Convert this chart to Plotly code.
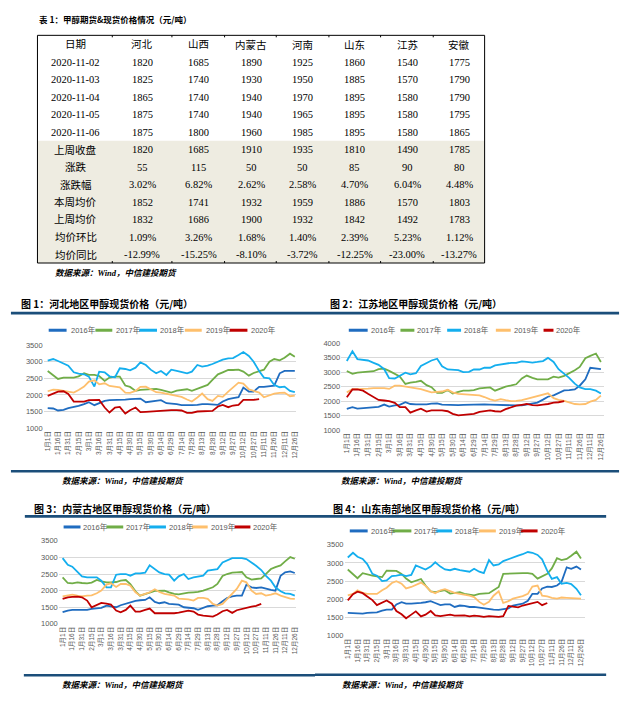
import plotly.graph_objects as go

W, H = 632, 702


def X(p):
    return p / W


def Y(p):
    return 1 - p / H


# ---------------- table data ----------------
table_title = "表 1：甲醇期货&现货价格情况（元/吨）"
regions = ["河北", "山西", "内蒙古", "河南", "山东", "江苏", "安徽"]
dates = ["2020-11-02", "2020-11-03", "2020-11-04", "2020-11-05", "2020-11-06"]
p_1102 = [1820, 1685, 1890, 1925, 1860, 1540, 1775]
p_1103 = [1825, 1740, 1930, 1950, 1885, 1570, 1790]
p_1104 = [1865, 1740, 1940, 1970, 1895, 1580, 1790]
p_1105 = [1875, 1740, 1940, 1965, 1895, 1580, 1795]
p_1106 = [1875, 1800, 1960, 1985, 1895, 1580, 1865]
stat_names = ["上周收盘", "涨跌", "涨跌幅", "本周均价", "上周均价", "均价环比", "均价同比"]
last_close = [1820, 1685, 1910, 1935, 1810, 1490, 1785]
change = [55, 115, 50, 50, 85, 90, 80]
change_pct = ["3.02%", "6.82%", "2.62%", "2.58%", "4.70%", "6.04%", "4.48%"]
week_avg = [1852, 1741, 1932, 1959, 1886, 1570, 1803]
last_week_avg = [1832, 1686, 1900, 1932, 1842, 1492, 1783]
avg_wow = ["1.09%", "3.26%", "1.68%", "1.40%", "2.39%", "5.23%", "1.12%"]
avg_yoy = ["-12.99%", "-15.25%", "-8.10%", "-3.72%", "-12.25%", "-23.00%", "-13.27%"]
source_text = "数据来源：Wind，中信建投期货"

# ---------------- chart data ----------------
DAYS = [0, 8, 15, 23, 30, 38, 45, 53, 60, 68, 75, 83, 90, 98, 105, 113, 120, 128, 135, 143,
        150, 158, 165, 173, 180, 188, 195, 203, 210, 218, 225, 233, 240, 248, 255, 263, 270,
        278, 285, 293, 300, 308, 315, 323, 330, 338, 345, 353, 360]
TICK_DAYS = [0, 15, 30, 45, 60, 75, 90, 105, 120, 135, 150, 165, 180, 195, 210, 225, 240,
             255, 270, 285, 300, 315, 330, 345, 360]
TICK_TEXT = ["1月1日", "1月16日", "1月31日", "2月15日", "3月1日", "3月16日", "3月31日",
             "4月15日", "4月30日", "5月15日", "5月30日", "6月14日", "6月29日", "7月14日",
             "7月29日", "8月13日", "8月28日", "9月12日", "9月27日", "10月12日", "10月27日",
             "11月11日", "11月26日", "12月11日", "12月26日"]
YEARS = ["2016年", "2017年", "2018年", "2019年", "2020年"]
COLORS = ["#1F6CC0", "#70AD47", "#14AEEE", "#FEBF6C", "#C00000"]
chart_titles = ["图 1：河北地区甲醇现货价格（元/吨）", "图 2：江苏地区甲醇现货价格（元/吨）",
                "图 3：内蒙古地区甲醇现货价格（元/吨）", "图 4：山东南部地区甲醇现货价格（元/吨）"]

hb_2016 = [1600, 1590, 1530, 1550, 1600, 1630, 1670, 1720, 1780, 1690,
           1760, 1820, 1840, 1840, 1840, 1860, 1870, 1890, 1890, 1780,
           1800, 1830, 1840, 1750, 1740, 1720, 1690, 1680, 1690, 1700,
           1720, 1720, 1710, 1700, 1800, 1870, 1900, 1930, 2220, 2100,
           2100, 2240, 2240, 2250, 2280, 2650, 2720, 2720, 2720]
hb_2017 = [2720, 2580, 2480, 2520, 2520, 2520, 2560, 2650, 2600, 2600,
           2570, 2420, 2520, 2550, 2550, 2280, 2240, 2120, 2150, 2160,
           2170, 2180, 2150, 2100, 2070, 2130, 2150, 2170, 2120, 2180,
           2250, 2300, 2450, 2620, 2680, 2750, 2750, 2760, 2700, 2580,
           2660, 2720, 2760, 3000, 3080, 3040, 3120, 3240, 3150]
hb_2018 = [3030, 3080, 3020, 2950, 2880, 2680, 2640, 2620, 2550, 2250,
           2700, 2680, 2560, 2530, 2800, 2780, 2740, 2820, 2980, 2900,
           2760, 2650, 2720, 2600, 2760, 2720, 2680, 2650, 2700, 2900,
           2850, 2880, 2930, 3000, 3060, 3100, 3110, 3200, 3290, 3170,
           3000, 2720, 2520, 2500, 2300, 2230, 2250, 2120, 2080]
hb_2019 = [2110, 2160, 2150, 2130, 2100, 2070, 2150, 2250, 2400, 2440,
           2320, 2350, 2270, 2250, 2230, 2070, 2060, 2120, 2240, 2250,
           2160, 2080, 2070, 2030, 2000, 1970, 1940, 1860, 1800, 1920,
           2040, 1870, 1820, 1970, 1940, 2100, 2220, 2370, 2340, 2170,
           2120, 2070, 1930, 2000, 2040, 2060, 2070, 1960, 1980]
hb_2020 = [1970, 2030, 2100, 2110, 2030, 1800, 1790, 1800, 1840, 1850,
           1850, 1620, 1470, 1620, 1640, 1440, 1540, 1620, 1480, 1490,
           1500, 1520, 1540, 1540, 1540, 1540, 1530, 1460, 1460, 1500,
           1500, 1500, 1520, 1650, 1700, 1630, 1680, 1700, 1850, 1850,
           1850, 1875]

js_2016 = [1730, 1790, 1740, 1760, 1770, 1780, 1800, 1880, 1810, 1850,
           1870, 1960, 1900, 1890, 1880, 1890, 1910, 1920, 1880, 1870,
           1870, 1860, 1870, 1880, 1880, 1900, 1890, 1880, 1870, 1860,
           1850, 1850, 1850, 1850, 1880, 1910, 1950, 2050, 2150, 2200,
           2280, 2370, 2380, 2400, 2530, 2750, 3150, 3120, 3100]
js_2017 = [3040, 2940, 2980, 3000, 3010, 3030, 3100, 3120, 3040, 2950,
           2850, 2590, 2640, 2660, 2700, 2550, 2480, 2280, 2280, 2380,
           2260, 2320, 2360, 2360, 2380, 2440, 2460, 2470, 2360, 2440,
           2500, 2540, 2580, 2780, 2880, 2800, 2750, 2750, 2750, 2840,
           2810, 2870, 2960, 3060, 3180, 3480, 3560, 3640, 3350]
js_2018 = [3380, 3720, 3450, 3410, 3400, 3320, 3250, 3100, 2790, 2780,
           2860, 2980, 2920, 2960, 3210, 3310, 3400, 3460, 3200, 3090,
           3090, 3070, 3000, 3010, 3090, 3090, 3150, 3150, 3230, 3260,
           3300, 3320, 3320, 3370, 3350, 3330, 3350, 3380, 3490, 3350,
           3100, 2950, 2800, 2600, 2470, 2410, 2410, 2360, 2260]
js_2019 = [2300, 2410, 2410, 2410, 2430, 2450, 2450, 2450, 2420, 2530,
           2530, 2500, 2450, 2430, 2410, 2350, 2300, 2320, 2330, 2390,
           2300, 2250, 2240, 2240, 2230, 2200, 2140, 2060, 2020, 2070,
           2030, 2000, 2010, 2030, 2080, 2130, 2200, 2240, 2270, 2100,
           2040, 2010, 1960, 1900, 1890, 1900, 1980, 2040, 2190]
js_2020 = [2130, 2400, 2400, 2360, 2250, 2150, 2040, 2020, 2000, 1940,
           1790, 1790, 1600, 1680, 1740, 1640, 1680, 1680, 1680, 1650,
           1560, 1510, 1520, 1540, 1560, 1630, 1660, 1680, 1650, 1640,
           1720, 1790, 1840, 1870, 1900, 1860, 1850, 1880, 1900, 1950,
           1960, 2000]

nm_2016 = [1350, 1400, 1420, 1420, 1420, 1420, 1450, 1460, 1480, 1550,
           1520, 1500, 1560, 1610, 1650, 1690, 1710, 1720, 1800, 1660,
           1620, 1650, 1600, 1600, 1580, 1500, 1480, 1470, 1420, 1480,
           1530, 1550, 1560, 1680, 1780, 1830, 1850, 1850, 2180, 2100,
           2080, 2100, 2060, 2020, 2000, 2450, 2550, 2580, 2530]
nm_2017 = [2400, 2230, 2220, 2250, 2230, 2220, 2240, 2320, 2280, 2250,
           2250, 2260, 2300, 2320, 2200, 1980, 1850, 1890, 1940, 1990,
           2000, 2000, 1950, 1900, 1890, 1920, 1940, 1950, 1960, 2000,
           2040, 2100, 2200, 2440, 2500, 2540, 2550, 2560, 2400, 2330,
           2350, 2370, 2500, 2650, 2710, 2760, 2880, 3010, 2960]
nm_2018 = [2980, 2780, 2720, 2550, 2430, 2400, 2400, 2400, 2300, 2100,
           2100, 2480, 2500, 2500, 2450, 2520, 2520, 2540, 2760, 2650,
           2550, 2500, 2480, 2300, 2430, 2500, 2350, 2400, 2430, 2450,
           2600, 2620, 2650, 2850, 2920, 2980, 2980, 2980, 2950, 2850,
           2750, 2620, 2450, 2300, 2100, 1980, 1920, 1900, 1850]
nm_2019 = [1830, 1850, 1880, 1850, 1830, 1850, 1860, 1920, 2000, 2180,
           2220, 2110, 2200, 2200, 2150, 1950, 1850, 1900, 1950, 2040,
           1960, 1900, 1880, 1850, 1760, 1750, 1740, 1700, 1780, 1780,
           1750, 1600, 1550, 1600, 1750, 1900, 2050, 2300, 2250, 2000,
           1900, 1920, 1850, 1880, 1920, 1850, 1800, 1760, 1750]
nm_2020 = [1750, 1800, 1810, 1820, 1800, 1700, 1500, 1580, 1630, 1610,
           1580, 1400, 1350, 1420, 1550, 1370, 1370, 1420, 1460, 1320,
           1320, 1310, 1300, 1320, 1340, 1380, 1400, 1370, 1280, 1250,
           1240, 1220, 1280, 1380, 1420, 1330, 1410, 1450, 1500, 1520,
           1540, 1600]

sd_2016 = [1630, 1620, 1600, 1610, 1630, 1630, 1640, 1690, 1720, 1720,
           1860, 1920, 1880, 1880, 1880, 1900, 1920, 1950, 1900, 1840,
           1860, 1860, 1790, 1830, 1820, 1790, 1790, 1770, 1740, 1720,
           1720, 1710, 1730, 1750, 1830, 1860, 1880, 1960, 2150, 2150,
           2300, 2350, 2340, 2380, 2480, 2880, 2840, 2900, 2820]
sd_2017 = [2820, 2680, 2580, 2720, 2680, 2650, 2630, 2610, 2790, 2790,
           2780, 2700, 2570, 2470, 2520, 2560, 2380, 2220, 2200, 2220,
           2250, 2160, 2180, 2200, 2150, 2130, 2110, 2150, 2160, 2170,
           2250, 2340, 2700, 2710, 2700, 2710, 2720, 2720, 2700, 2570,
           2640, 2700, 2850, 3130, 3080, 3110, 3200, 3310, 3120]
sd_2018 = [3150, 3280, 3170, 3110, 2970, 2700, 2650, 2500, 2520, 2640,
           2650, 2680, 2640, 2670, 2930, 2870, 2820, 2900, 3020, 2900,
           2820, 2800, 2840, 2800, 2790, 2760, 2840, 2760, 2720, 3080,
           2930, 2960, 3050, 3110, 3150, 3200, 3240, 3300, 3280, 3220,
           3100, 2780, 2560, 2610, 2430, 2450, 2420, 2290, 2110]
sd_2019 = [2110, 2150, 2250, 2180, 2150, 2160, 2150, 2250, 2320, 2450,
           2500, 2430, 2300, 2340, 2400, 2460, 2370, 2220, 2170, 2250,
           2280, 2220, 2180, 2150, 2130, 2100, 2060, 1930, 1850, 1930,
           2100, 2220, 1900, 1950, 2020, 2050, 2090, 2150, 2350, 2380,
           2100, 2080, 2040, 2020, 2050, 2040, 2040, 2030, 2020]
sd_2020 = [1970, 2140, 2210, 2170, 2080, 1980, 1840, 1900, 1970, 1880,
           1680, 1590, 1480, 1580, 1670, 1530, 1580, 1680, 1560, 1540,
           1550, 1580, 1550, 1550, 1560, 1530, 1550, 1540, 1520, 1540,
           1530, 1520, 1540, 1820, 1800, 1780, 1830, 1860, 1900, 1930,
           1840, 1900]

# ---------------- layout geometry (pixels) ----------------
charts = [
    dict(series=[hb_2016, hb_2017, hb_2018, hb_2019, hb_2020], title=chart_titles[0],
         xpx=(47, 295), xr=(-6, 362), ypx=(429, 345), yv=(1000, 3500),
         title_xy=(18, 303), bar=(10, 316, 312.7), foot=(10, 316, 472.7), src=(59, 482),
         leg_y=330, leg=[(48, 66, 68), (95, 112, 114), (139, 157, 158), (185, 202, 204), (230, 248, 250)]),
    dict(series=[js_2016, js_2017, js_2018, js_2019, js_2020], title=chart_titles[1],
         xpx=(348, 603), xr=(-8, 364), ypx=(431, 343), yv=(1000, 4000),
         title_xy=(329, 303), bar=(316, 622, 312.7), foot=(316, 622, 472.7), src=(340, 482),
         leg_y=330, leg=[(350, 369, 370), (402, 416, 417), (449, 463, 464), (498, 513, 514), (546, 556, 557)]),
    dict(series=[nm_2016, nm_2017, nm_2018, nm_2019, nm_2020], title=chart_titles[2],
         xpx=(62, 295), xr=(-6, 362), ypx=(627, 543), yv=(1000, 3500),
         title_xy=(31, 510), bar=(24, 316, 518.3), foot=(23, 316, 679), src=(59, 689),
         leg_y=529, leg=[(63, 80, 81), (106, 123, 124), (149, 166, 167), (192, 208, 209), (235, 251, 252)]),
    dict(series=[sd_2016, sd_2017, sd_2018, sd_2019, sd_2020], title=chart_titles[3],
         xpx=(349, 583), xr=(-5, 366), ypx=(639, 547), yv=(1000, 3500),
         title_xy=(332, 510), bar=(316, 609, 518.3), foot=(316, 609, 678.5), src=(341, 689),
         leg_y=533, leg=[(351, 369, 370), (394, 413, 414), (438, 454, 455), (481, 498, 499), (523, 540, 541)]),
]

fig = go.Figure()
shapes = []
annotations = []
layout = dict(width=W, height=H, margin=dict(l=0, r=0, t=0, b=0),
              paper_bgcolor="white", plot_bgcolor="white", showlegend=False)

NAVY = "#1B4E7A"
SANS = "Liberation Sans, Noto Sans CJK SC, sans-serif"
CJK = "Noto Sans CJK SC, sans-serif"
SERIF = "Liberation Serif, Noto Sans CJK SC, serif"

for i, c in enumerate(charts):
    n = i + 1
    xa = "xaxis" if n == 1 else f"xaxis{n}"
    ya = "yaxis" if n == 1 else f"yaxis{n}"
    xref = "x" if n == 1 else f"x{n}"
    yref = "y" if n == 1 else f"y{n}"
    p0, p359 = c["xpx"]
    s = (p359 - p0) / 359.0
    xd = [X(p0 + c["xr"][0] * s), X(p0 + c["xr"][1] * s)]
    plo, phi = c["ypx"]
    vlo, vhi = c["yv"]
    rlo, rhi = vlo - 20, vhi + 20
    sc = (plo - phi) / (vhi - vlo)
    yd = [Y(plo + (vlo - rlo) * sc), Y(phi - (rhi - vhi) * sc)]

    for k, vals in enumerate(c["series"]):
        fig.add_trace(go.Scatter(x=DAYS[:len(vals)], y=vals, mode="lines", name=YEARS[k],
                                 line=dict(color=COLORS[k], width=1.8),
                                 xaxis=xref, yaxis=yref, hoverinfo="skip"))

    layout[xa] = dict(domain=xd, range=list(c["xr"]), anchor=yref, tickmode="array",
                      tickvals=TICK_DAYS, ticktext=TICK_TEXT, tickangle=-90,
                      tickfont=dict(family=SANS, size=6.5, color="#595959"),
                      showgrid=False, zeroline=False, showline=False, ticks="")
    layout[ya] = dict(domain=yd, range=[rlo, rhi], anchor=xref, tickmode="linear",
                      tick0=1000, dtick=500, tickfont=dict(family=SANS, size=7.5, color="#595959"),
                      showgrid=True, gridcolor="#D9D9D9", gridwidth=1, zeroline=False,
                      showline=False, ticks="")

    tx, ty = c["title_xy"]
    annotations.append(dict(x=X(tx), y=Y(ty), xref="paper", yref="paper", xanchor="left",
                            yanchor="middle", showarrow=False, text="<b>" + c["title"] + "</b>",
                            font=dict(family=CJK, size=10, color="black")))
    bx0, bx1, by = c["bar"]
    shapes.append(dict(type="line", xref="paper", yref="paper", x0=X(bx0), x1=X(bx1),
                       y0=Y(by), y1=Y(by), line=dict(color=NAVY, width=2.6)))
    fx0, fx1, fy = c["foot"]
    shapes.append(dict(type="line", xref="paper", yref="paper", x0=X(fx0), x1=X(fx1),
                       y0=Y(fy), y1=Y(fy), line=dict(color=NAVY, width=2.6)))
    sx, sy = c["src"]
    annotations.append(dict(x=X(sx), y=Y(sy), xref="paper", yref="paper", xanchor="left",
                            yanchor="middle", showarrow=False,
                            text="<b><i>" + source_text + "</i></b>",
                            font=dict(family=SERIF, size=8.5, color="black")))
    ly = c["leg_y"]
    for k, (l0, l1, lt) in enumerate(c["leg"]):
        shapes.append(dict(type="line", xref="paper", yref="paper", x0=X(l0), x1=X(l1),
                           y0=Y(ly), y1=Y(ly), line=dict(color=COLORS[k], width=3)))
        annotations.append(dict(x=X(lt), y=Y(ly), xref="paper", yref="paper", xanchor="left",
                                yanchor="middle", showarrow=False, text=YEARS[k],
                                font=dict(family=SANS, size=7.5, color="#595959")))

# ---------------- table ----------------
T_L, T_R, T_T, T_B = 36.7, 486.7, 31.7, 262.0
ROW0, ROWSTEP = 41.0, 17.7
col_x = [75, 142, 199, 252, 303, 356, 409, 461]
shade_top = ROW0 + 5.5 * ROWSTEP

shapes.append(dict(type="rect", xref="paper", yref="paper", x0=X(T_L), x1=X(T_R),
                   y0=Y(T_B), y1=Y(shade_top), fillcolor="#EEECE1", line=dict(width=0),
                   layer="below"))
shapes.append(dict(type="rect", xref="paper", yref="paper", x0=X(T_L), x1=X(T_R),
                   y0=Y(T_B), y1=Y(T_T), line=dict(color="black", width=1)))
for sepx in [112, 172, 225, 277, 330, 382, 435]:
    shapes.append(dict(type="line", xref="paper", yref="paper", x0=X(sepx), x1=X(sepx),
                       y0=Y(T_T), y1=Y(T_T + 2), line=dict(color="black", width=1)))
    shapes.append(dict(type="line", xref="paper", yref="paper", x0=X(sepx), x1=X(sepx),
                       y0=Y(T_B), y1=Y(T_B - 2), line=dict(color="black", width=1)))

annotations.append(dict(x=X(36), y=Y(15), xref="paper", yref="paper", xanchor="left",
                        yanchor="middle", showarrow=False, text="<b>" + table_title + "</b>",
                        font=dict(family=CJK, size=8.5, color="black")))
annotations.append(dict(x=X(52), y=Y(272), xref="paper", yref="paper", xanchor="left",
                        yanchor="middle", showarrow=False, text="<b><i>" + source_text + "</i></b>",
                        font=dict(family=SERIF, size=8.5, color="black")))

rows = [["日期"] + regions]
for d, vals in zip(dates, [p_1102, p_1103, p_1104, p_1105, p_1106]):
    rows.append([d] + [str(v) for v in vals])
for name, vals in zip(stat_names, [last_close, change, change_pct, week_avg,
                                   last_week_avg, avg_wow, avg_yoy]):
    rows.append([name] + [str(v) for v in vals])

for r, row in enumerate(rows):
    yy = ROW0 + r * ROWSTEP
    for cidx, txt in enumerate(row):
        annotations.append(dict(x=X(col_x[cidx]), y=Y(yy), xref="paper", yref="paper",
                                xanchor="center", yanchor="middle", showarrow=False, text=txt,
                                font=dict(family=SERIF, size=10.5, color="black")))

layout["shapes"] = shapes
layout["annotations"] = annotations
fig.update_layout(**layout)
fig.write_html("out.html", config={"displayModeBar": False},
               post_script="document.body.style.margin='0';document.body.style.padding='0';")
